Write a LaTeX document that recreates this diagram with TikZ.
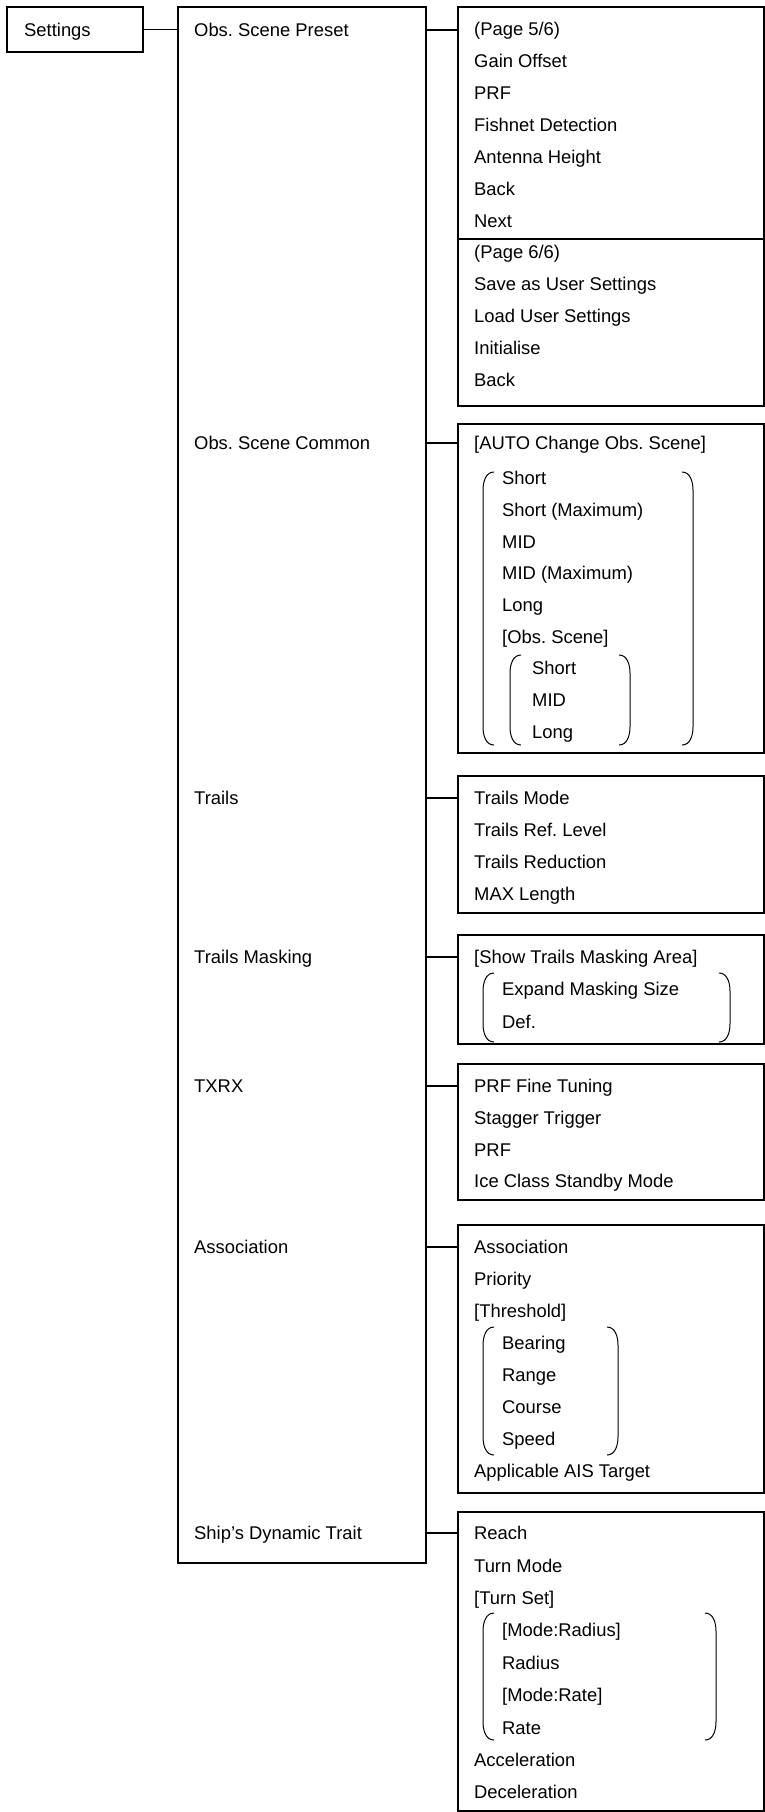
\documentclass[tikz,border=0pt]{standalone}
\usepackage{fontspec}
\setmainfont{Liberation Sans}
\usepackage{tikz}
\usetikzlibrary{positioning}
\frenchspacing

% round brackets round the indented entries
\newcommand{\openbrk}[3]{\draw[brk] (#1+11,#2) to[out=180,in=90] (#1,#2+18) -- (#1,#3-18) to[out=-90,in=180] (#1+11,#3);}
\newcommand{\closebrk}[3]{\draw[brk] (#1-11,#2) to[out=0,in=90] (#1,#2+18) -- (#1,#3-18) to[out=-90,in=0] (#1-11,#3);}

\begin{document}
\begin{tikzpicture}[
    x=1pt, y=-1pt,
    box/.style={rectangle, draw, line width=1.2pt, inner sep=0pt, outer sep=0pt, anchor=north west},
    item/.style={anchor=west, inner sep=0pt, text height=13.2pt, text depth=0pt, font=\fontsize{18.4}{22}\selectfont},
    line/.style={draw, line width=1.2pt},
    brk/.style={line width=1pt}
]
\useasboundingbox (0,0) rectangle (765,1812);

% left column
\node [box, minimum width=136pt, minimum height=45pt] (settings) at (7,7) {};
\node [item] (lsettings) at (24,29.5) {Settings};
\node [box, minimum width=248pt, minimum height=1556pt] (menu) at (178,7) {};
\node [item] (lpreset) at (194,30) {Obs. Scene Preset};
\node [item] (lcommon) at (194,443) {Obs. Scene Common};
\node [item] (ltrails) at (194,798) {Trails};
\node [item] (lmasking) at (194,957) {Trails Masking};
\node [item] (ltxrx) at (194,1086) {TXRX};
\node [item] (lassoc) at (194,1247) {Association};
\node [item] (lship) at (194,1533) {Ship’s Dynamic Trait};

% right column
\node [box, minimum width=306pt, minimum height=399pt] (preset) at (458,7) {};
\node [box, minimum width=306pt, minimum height=329pt] (common) at (458,424) {};
\node [box, minimum width=306pt, minimum height=137pt] (trails) at (458,776) {};
\node [box, minimum width=306pt, minimum height=109pt] (masking) at (458,935) {};
\node [box, minimum width=306pt, minimum height=136pt] (txrx) at (458,1064) {};
\node [box, minimum width=306pt, minimum height=268pt] (assoc) at (458,1225) {};
\node [box, minimum width=306pt, minimum height=299pt] (ship) at (458,1512) {};
\coordinate (split) at (458,239);
\draw [line] (split) -- (split -| preset.east);

\foreach \t [count=\i from 0] in {{(Page 5/6)},Gain Offset,PRF,Fishnet Detection,Antenna Height,Back,Next,{(Page 6/6)},Save as User Settings,Load User Settings,Initialise,Back}
    \node [item] (pre\i) at (474,29+31.9*\i) {\t};

\node [item] (com0) at (474,443) {[AUTO Change Obs. Scene]};
\foreach \x/\t [count=\i from 1] in {502/Short,502/Short (Maximum),502/MID,502/MID (Maximum),502/Long,502/{[Obs. Scene]},532/Short,532/MID,532/Long}
    \node [item] (com\i) at (\x,446.3+31.7*\i) {\t};
\openbrk{483}{472}{745}
\closebrk{693}{472}{745}
\openbrk{510}{655}{745}
\closebrk{630}{655}{745}

\foreach \t [count=\i from 0] in {Trails Mode,Trails Ref. Level,Trails Reduction,MAX Length}
    \node [item] (trl\i) at (474,798+32*\i) {\t};

\node [item] (msk0) at (474,957) {[Show Trails Masking Area]};
\node [item] (msk1) at (502,989) {Expand Masking Size};
\node [item] (msk2) at (502,1022) {Def.};
\openbrk{483}{973}{1042}
\closebrk{730}{973}{1042}

\foreach \t [count=\i from 0] in {PRF Fine Tuning,Stagger Trigger,PRF,Ice Class Standby Mode}
    \node [item] (txr\i) at (474,1086+31.7*\i) {\t};

\foreach \x/\t [count=\i from 0] in {474/Association,474/Priority,474/{[Threshold]},502/Bearing,502/Range,502/Course,502/Speed,474/Applicable AIS Target}
    \node [item] (asc\i) at (\x,1247+32*\i) {\t};
\openbrk{483}{1327}{1455}
\closebrk{618}{1327}{1455}

\foreach \x/\t [count=\i from 0] in {474/Reach,474/Turn Mode,474/{[Turn Set]},502/{[Mode:Radius]},502/Radius,502/{[Mode:Rate]},502/Rate,474/Acceleration,474/Deceleration}
    \node [item] (shp\i) at (\x,1533+32.4*\i) {\t};
\openbrk{483}{1613}{1740}
\closebrk{716}{1613}{1740}

% connectors
\path [line] (settings.east) -- (settings.east -| menu.west);
\path [line] (lpreset -| menu.east) -- (lpreset -| preset.west);
\path [line] (lcommon -| menu.east) -- (lcommon -| common.west);
\path [line] (ltrails -| menu.east) -- (ltrails -| trails.west);
\path [line] (lmasking -| menu.east) -- (lmasking -| masking.west);
\path [line] (ltxrx -| menu.east) -- (ltxrx -| txrx.west);
\path [line] (lassoc -| menu.east) -- (lassoc -| assoc.west);
\path [line] (lship -| menu.east) -- (lship -| ship.west);

\end{tikzpicture}
\end{document}
